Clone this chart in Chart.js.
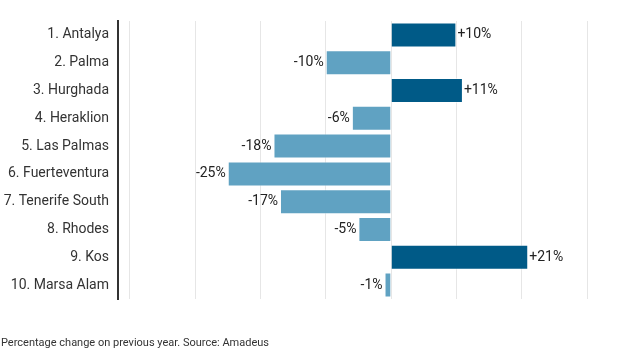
<!DOCTYPE html>
<html>
<head>
<meta charset="utf-8">
<script src="https://cdn.jsdelivr.net/npm/chart.js@4.4.0/dist/chart.umd.min.js"></script>
<style>
  html, body { margin: 0; padding: 0; background: #fff; }
  #wrap { position: relative; width: 623px; height: 357px; }
  #note { position: absolute; left: 1px; top: 336px; font: 11px Roboto, sans-serif; color: #333; white-space: nowrap; }
</style>
</head>
<body>
<div id="wrap">
  <canvas id="c" width="623" height="357"></canvas>
  <div id="note">Percentage change on previous year. Source: Amadeus</div>
</div>
<script>
const airports = ["1. Antalya", "2. Palma", "3. Hurghada", "4. Heraklion", "5. Las Palmas", "6. Fuerteventura", "7. Tenerife South", "8. Rhodes", "9. Kos", "10. Marsa Alam"];
const changePct = [10, -10, 11, -6, -18, -25, -17, -5, 21, -1];
const gridTicks = [-40, -30, -20, -10, 0, 10, 20, 30];

const POS = "#005a87";
const NEG = "#60a2c2";

const labelPlugin = {
  id: "barLabels",
  afterDatasetsDraw(chart) {
    const ctx = chart.ctx;
    const meta = chart.getDatasetMeta(0);
    ctx.save();
    ctx.font = "14px Roboto, sans-serif";
    ctx.fillStyle = "#222";
    ctx.textBaseline = "middle";
    meta.data.forEach((bar, i) => {
      const v = changePct[i];
      const txt = (v > 0 ? "+" : "") + v + "%";
      if (v >= 0) {
        ctx.textAlign = "left";
        ctx.fillText(txt, bar.x + 1, bar.y);
      } else {
        ctx.textAlign = "right";
        ctx.fillText(txt, bar.x - 2, bar.y);
      }
    });
    ctx.restore();
  }
};

new Chart(document.getElementById("c"), {
  type: "bar",
  data: {
    labels: airports,
    datasets: [{
      data: changePct,
      backgroundColor: changePct.map(v => v >= 0 ? POS : NEG),
      borderColor: "rgba(255,255,255,0.5)",
      borderWidth: 1,
      categoryPercentage: 1,
      barPercentage: 0.9
    }]
  },
  options: {
    indexAxis: "y",
    responsive: false,
    animation: false,
    layout: { padding: { top: 21, bottom: 58, right: 2, left: 0 } },
    plugins: { legend: { display: false }, tooltip: { enabled: false } },
    scales: {
      x: {
        min: -41.8,
        max: 35.2,
        afterBuildTicks(scale) { scale.ticks = gridTicks.map(v => ({ value: v })); },
        ticks: { display: false },
        grid: { drawTicks: false, color: "#e6e6e6", lineWidth: 1 },
        border: { display: false }
      },
      y: {
        afterFit(scale) { scale.width = 118; },
        ticks: { color: "#333", font: { family: "Roboto", size: 14 }, padding: 9 },
        grid: { display: false, drawTicks: false },
        border: { display: true, color: "#333", width: 2 }
      }
    }
  },
  plugins: [labelPlugin]
});
</script>
</body>
</html>
